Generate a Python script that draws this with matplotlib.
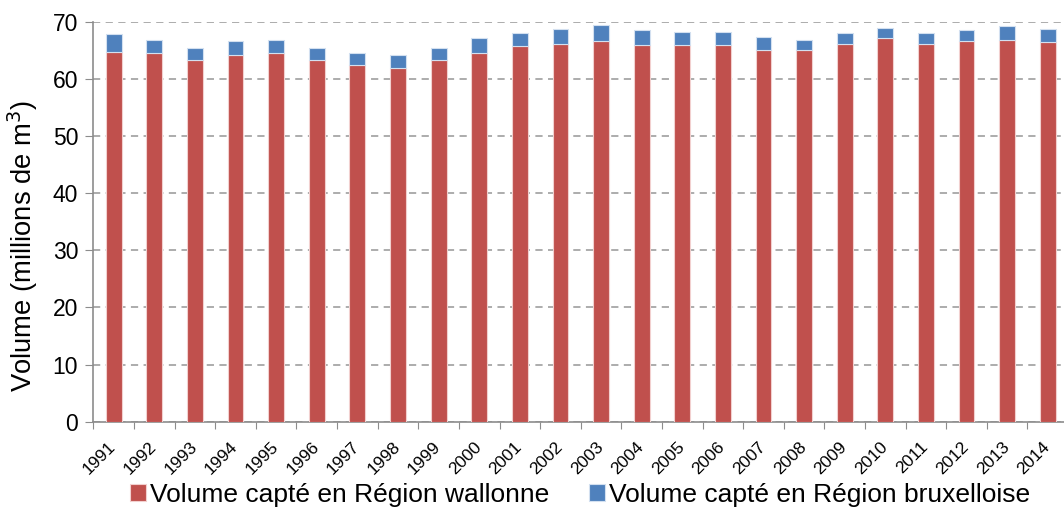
import numpy as np
import matplotlib.pyplot as plt
from matplotlib.transforms import ScaledTranslation

plt.rcParams['font.family'] = ['Liberation Sans', 'DejaVu Sans']

# Volumes annuels (millions de m3)
annees = [str(a) for a in range(1991, 2015)]
wallonie = [64.8, 64.6, 63.3, 64.2, 64.6, 63.3, 62.4, 61.9, 63.3, 64.6, 65.8, 66.2,
            66.6, 66.0, 66.0, 66.0, 65.1, 65.1, 66.2, 67.1, 66.2, 66.7, 66.9, 66.4]
total = [67.8, 66.9, 65.5, 66.7, 66.9, 65.5, 64.6, 64.2, 65.5, 67.1, 68.0, 68.7,
         69.4, 68.5, 68.2, 68.2, 67.3, 66.9, 68.0, 68.9, 68.0, 68.5, 69.2, 68.7]
bruxelles = [round(t - w, 1) for t, w in zip(total, wallonie)]

rouge = '#C0504D'
bleu = '#4F81BD'
gris = '#8C8C8C'

fig = plt.figure(figsize=(10.64, 5.08), dpi=100)
ax = fig.add_axes([0.0878, 0.170, 0.916, 0.787])

x = np.arange(len(annees))
ax.bar(x, wallonie, width=0.39, color=rouge, edgecolor='#F2D0CF', linewidth=0.8,
       label='Volume capté en Région wallonne', zorder=3)
ax.bar(x, bruxelles, width=0.39, bottom=wallonie, color=bleu, edgecolor='#D3E0F0',
       linewidth=0.8, label='Volume capté en Région bruxelloise', zorder=3)

ax.set_xlim(-0.5, len(annees) - 0.5)
ax.set_ylim(0, 70)
ax.set_yticks(range(0, 71, 10))
ax.yaxis.grid(True, color='#A6A6A6', linestyle=(0, (4, 3)), linewidth=1.3, zorder=0)

# graduations entre les categories, etiquettes au centre
ax.set_xticks(np.arange(-0.5, len(annees), 1.0))
ax.set_xticklabels([])
ax.set_xticks(x, minor=True)
ax.set_xticklabels(annees, minor=True, rotation=45, ha='right', va='top',
                   rotation_mode='anchor', fontsize=12.5)
ax.tick_params(axis='x', which='minor', length=0, pad=12.5)
ax.tick_params(axis='x', which='major', length=5, color=gris, direction='out')
ax.tick_params(axis='y', length=6, color=gris, labelsize=16.5, pad=5)
decalage = ScaledTranslation(-4 / 72, 0, fig.dpi_scale_trans)
for lab in ax.get_xticklabels(minor=True):
    lab.set_transform(lab.get_transform() + decalage)

for s in ['top', 'right']:
    ax.spines[s].set_visible(False)
for s in ['left', 'bottom']:
    ax.spines[s].set_color(gris)
    ax.spines[s].set_linewidth(1.2)

ax.set_ylabel('Volume (millions de m$^3$)', fontsize=19.7)
ax.yaxis.set_label_coords(-0.055, 0.44)

fig.legend(loc='center', bbox_to_anchor=(0.545, 0.026), ncol=2, frameon=False,
           fontsize=19, handlelength=0.6, handleheight=0.6, handletextpad=0.15,
           columnspacing=1.5, borderpad=0)

fig.savefig('out.png', dpi=100)
